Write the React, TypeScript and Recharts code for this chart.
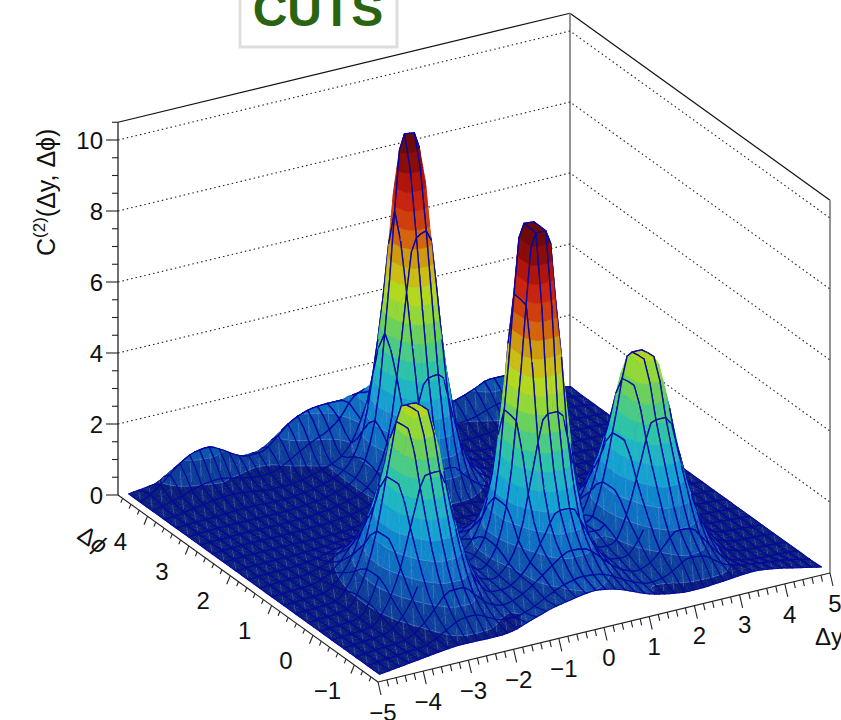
import React from "react";
import { ComposedChart, XAxis, YAxis, Scatter, Line } from "recharts";

const W = 841, H = 720;
// surface heights C(2): one array per dphi row (front to back), 34 dy columns each
const row00 = [.1,.15,.2,.25,.3,.35,.38,.38,.37,.37,.42,.55,.68,.8,.88,.95,1.0,.95,.85,.7,.55,.45,.38,.34,.34,.37,.4,.44,.46,.42,.36,.28,.2,.12];
const row01 = [.1,.15,.18,.22,.25,.38,.59,.78,.8,.64,.49,.47,.57,.75,.94,1.08,1.15,1.12,1.01,.81,.63,.52,.56,.75,.95,.92,.69,.48,.4,.35,.3,.25,.18,.1];
const row02 = [.1,.15,.18,.2,.29,.55,.95,1.32,1.33,1.01,.69,.57,.66,.87,1.15,1.44,1.64,1.61,1.35,.99,.74,.62,.76,1.13,1.48,1.45,1.05,.6,.3,.2,.15,.14,.12,.1];
const row03 = [.1,.15,.18,.22,.44,.94,1.76,2.45,2.47,1.79,1.06,.69,.69,.88,1.29,1.93,2.52,2.51,1.84,1.13,.8,.77,1.15,1.94,2.67,2.65,1.89,1.01,.44,.23,.15,.14,.12,.1];
const row04 = [.1,.13,.15,.2,.64,1.5,2.9,4.1,4.13,2.89,1.59,.86,.72,.97,1.7,3.5,5.0,5.0,3.4,1.55,.88,.9,1.61,2.92,4.1,4.09,2.9,1.5,.6,.27,.16,.14,.12,.1];
const row05 = [.1,.13,.15,.22,.83,2.03,3.97,5.62,5.62,3.94,2.11,1.02,.75,1.13,2.48,6.0,9.85,9.85,5.91,2.32,1.07,1.06,2.09,3.92,5.57,5.57,3.94,2.01,.77,.32,.18,.15,.12,.1];
const row06 = [.1,.13,.15,.22,.82,2.0,3.93,5.57,5.57,3.9,2.1,1.0,.75,1.15,2.5,6.1,9.88,9.85,6.0,2.35,1.07,1.05,2.07,3.88,5.52,5.52,3.9,2.0,.76,.32,.18,.15,.12,.1];
const row07 = [.1,.13,.15,.2,.62,1.47,2.83,3.99,4.0,2.84,1.54,.83,.68,.93,1.66,3.37,5.15,5.22,3.3,1.52,.86,.86,1.57,2.84,3.99,3.99,2.83,1.47,.59,.27,.17,.14,.12,.1];
const row08 = [.1,.13,.15,.18,.45,.98,1.83,2.55,2.55,1.84,1.05,.63,.57,.72,1.02,1.54,2.05,2.02,1.47,.9,.64,.65,1.07,1.85,2.56,2.55,1.83,.98,.43,.22,.16,.14,.12,.1];
const row09 = [.1,.13,.15,.17,.31,.6,1.05,1.45,1.45,1.06,.64,.44,.43,.51,.65,.84,.95,.93,.78,.58,.46,.47,.67,1.07,1.45,1.45,1.05,.6,.3,.19,.15,.14,.12,.1];
const row10 = [.1,.13,.15,.16,.23,.36,.59,.78,.79,.6,.42,.3,.33,.36,.43,.48,.5,.49,.45,.38,.33,.32,.41,.6,.78,.78,.59,.36,.22,.17,.15,.14,.12,.1];
const row11 = [.1,.13,.14,.15,.18,.23,.32,.39,.39,.32,.25,.24,.26,.3,.35,.38,.4,.39,.37,.32,.27,.25,.27,.33,.39,.39,.32,.23,.18,.15,.15,.14,.12,.1];
const row12 = [.1,.13,.14,.15,.15,.16,.18,.21,.25,.26,.25,.24,.28,.33,.39,.43,.45,.44,.41,.35,.29,.24,.22,.23,.25,.25,.21,.18,.16,.15,.15,.14,.12,.1];
const row13 = [.1,.13,.14,.15,.15,.15,.15,.15,.15,.17,.22,.27,.35,.47,.65,.95,1.23,1.24,.91,.58,.4,.29,.23,.19,.16,.15,.15,.15,.15,.15,.15,.14,.12,.1];
const row14 = [.1,.13,.14,.15,.15,.15,.15,.16,.17,.2,.25,.32,.44,.65,1.15,2.34,3.57,3.63,2.29,1.06,.55,.35,.26,.21,.17,.15,.15,.15,.15,.15,.15,.14,.12,.1];
const row15 = [.1,.13,.14,.15,.15,.15,.15,.16,.17,.21,.26,.35,.48,.83,1.82,4.47,7.25,7.43,4.42,1.72,.72,.37,.28,.21,.17,.15,.15,.15,.15,.15,.15,.14,.12,.1];
const row16 = [.1,.13,.14,.15,.15,.15,.15,.16,.17,.21,.26,.35,.48,.9,2.23,5.87,9.98,9.93,5.82,2.13,.79,.37,.28,.21,.17,.15,.15,.15,.15,.15,.15,.14,.12,.1];
const row17 = [.1,.13,.14,.16,.18,.2,.2,.18,.18,.21,.26,.35,.48,.8,1.68,3.97,6.38,6.53,3.92,1.58,.69,.37,.28,.23,.2,.22,.22,.22,.2,.16,.15,.14,.12,.1];
const row18 = [.1,.14,.2,.26,.32,.35,.32,.27,.23,.23,.27,.35,.47,.63,1.02,1.9,2.79,2.83,1.85,.93,.53,.35,.3,.3,.33,.38,.4,.38,.3,.22,.17,.14,.12,.1];
const row19 = [.1,.2,.3,.42,.52,.55,.48,.4,.35,.38,.55,.78,.98,1.15,1.45,1.95,2.1,2.0,1.65,1.15,.8,.6,.52,.5,.55,.68,.78,.75,.6,.42,.3,.2,.15,.1];
const row20 = [.1,.32,.62,.95,1.15,1.2,1.05,.82,.68,.7,.95,1.3,1.5,1.6,1.62,1.62,1.6,1.5,1.3,1.1,.95,.85,.8,.8,.9,1.05,1.2,1.2,1.0,.7,.45,.25,.15,.1];
const row21 = [.1,.15,.2,.25,.3,.35,.38,.38,.37,.37,.42,.55,.68,.8,.88,.95,1.0,.95,.85,.7,.55,.45,.38,.34,.34,.37,.4,.44,.46,.42,.36,.28,.2,.12];
const heightRows = [row00,row01,row02,row03,row04,row05,row06,row07,row08,row09,row10,row11,row12,row13,row14,row15,row16,row17,row18,row19,row20,row21];

const bandColors = ["#0a1f7a","#0d3f98","#0e55ad","#0f6fc0","#1188cc","#15a3d0","#1fb6c4","#2fc3a8","#4ccb84","#6cd15c","#93d838","#b4d81f","#cbbd14","#cf9a10","#d4640e","#cf3f0e","#c92410","#b0150c","#8a0d0a","#6e0a0a","#6e0a0a"];
const zTicks = [0,2,4,6,8,10];
const dyTicks = [-5,-4,-3,-2,-1,0,1,2,3,4,5];
const dphiTicks = [-1,0,1,2,3,4];

// view: box corners
const A = [378,682], U = [452,-109], V = [-260,-187];
const ZS = 35.5, ZMAX = 10.5, PI = Math.PI;
const proj = (t:number,s:number,z:number) => ({ px: A[0]+U[0]*t+V[0]*s, py: A[1]+U[1]*t+V[1]*s-z*ZS });

// monotone cubic curve through read values (same idea as a "monotone" line type)
function slopes(v:number[]){
  const m=new Array(v.length).fill(0);
  for(let k=1;k<v.length-1;k++){ const a=v[k]-v[k-1], b=v[k+1]-v[k]; m[k]=a*b<=0?0:2*a*b/(a+b); }
  m[0]=v[1]-v[0]; m[v.length-1]=v[v.length-1]-v[v.length-2];
  return m;
}
function hermite(v:number[],m:number[],u:number){
  const k=Math.min(Math.floor(u),v.length-2), f=u-k, f2=f*f, f3=f2*f;
  return (2*f3-3*f2+1)*v[k]+(f3-2*f2+f)*m[k]+(-2*f3+3*f2)*v[k+1]+(f3-f2)*m[k+1];
}
function clip(poly:any[], lvl:number, keepAbove:boolean){
  const out:any[] = [];
  for(let k=0;k<poly.length;k++){
    const a=poly[k], b=poly[(k+1)%poly.length];
    const ia = keepAbove ? a.z>=lvl : a.z<=lvl;
    const ib = keepAbove ? b.z>=lvl : b.z<=lvl;
    if(ia) out.push(a);
    if(ia!==ib){ const f=(lvl-a.z)/(b.z-a.z); out.push({t:a.t+(b.t-a.t)*f,s:a.s+(b.s-a.s)*f,z:lvl}); }
  }
  return out;
}

const NI=row00.length-1, NJ=heightRows.length-1;
const WY=45, SUB=2, NA=WY*SUB, NB=NJ*SUB;
const rowSl=heightRows.map(slopes);
const grid:any[][]=[];
for(let a=0;a<=NA;a++){
  const u=a/NA*NI;
  const col=heightRows.map((r,j)=>hermite(r,rowSl[j],u));
  const cm=slopes(col);
  const line:any[]=[];
  for(let b=0;b<=NB;b++){ line.push({t:.012+.978*a/NA,s:.015+.965*b/NB,z:Math.max(.02,hermite(col,cm,b/NB*NJ))}); }
  grid.push(line);
}
const mix=(p:any,q:any,f:number)=>proj(p.t+(q.t-p.t)*f,p.s+(q.s-p.s)*f,p.z+(q.z-p.z)*f);
const cells:any[]=[];
for(let b=NB-1;b>=0;b--) for(let a=NA-1;a>=0;a--){
  const q=[grid[a][b],grid[a+1][b],grid[a+1][b+1],grid[a][b+1]];
  const mz=(q[0].z+q[1].z+q[2].z+q[3].z)/4;
  const c=proj((q[0].t+q[1].t)/2,(q[0].s+q[3].s)/2,mz);
  const bands:any[]=[]; const pale:any[]=[];
  bandColors.forEach((col,n)=>{
    let p=clip(q,n*.5,true); if(p.length<3) return;
    p=clip(p,(n+1)*.5,false); if(p.length<3) return;
    bands.push({col,pts:p.map(m=>proj(m.t,m.s,m.z))});
    if(n>=1&&n<=5) p.forEach((m,k)=>{const o=p[(k+1)%p.length]; if(m.z===n*.5&&o.z===n*.5) pale.push([proj(m.t,m.s,m.z),proj(o.t,o.s,o.z)]);});
  });
  const P=q.map(m=>proj(m.t,m.s,m.z));
  const wires:any[]=[];
  const yVal=-5+10*(a+.5)/NA;
  const showRow=(j:number)=>!((j===3||j===5)&&Math.abs(yVal)>1.2&&mz>1.2);
  if(b%SUB===0&&showRow(b/SUB)) wires.push([P[0],P[1]]);
  if((b+1)%SUB===0&&showRow((b+1)/SUB)) wires.push([P[3],P[2]]);
  if(a%SUB===0) wires.push([P[0],P[3]]);
  if((a+1)%SUB===0) wires.push([P[1],P[2]]);
  const seams:any[]=[];
  if(mz<3.5&&a%SUB===0&&b%SUB===0) seams.push([mix(q[0],q[2],.45),P[2]]);
  if(mz<3.5&&a%SUB===1&&b%SUB===1) seams.push([P[0],mix(q[0],q[2],.55)]);
  cells.push({...c,bands,wires,seams,pale,mz});
}

const CellShape = (props:any) => {
  const {cx,cy,payload:d}=props;
  const ox=cx-d.px, oy=cy-d.py;
  const f=(n:any)=>`${(n.px+ox).toFixed(1)},${(n.py+oy).toFixed(1)}`;
  const segs=(l:any[])=>l.map(s=>`M${f(s[0])}L${f(s[1])}`).join("");
  return <g>
    {d.bands.map((b:any,k:number)=><polygon key={k} points={b.pts.map(f).join(" ")} fill={b.col} stroke={b.col} strokeWidth={.5}/>)}
    {d.pale.length>0&&<path d={segs(d.pale)} stroke="#7fa6e6" strokeOpacity={.6} strokeWidth={.6} fill="none"/>}
    {d.seams.length>0&&<path d={segs(d.seams)} stroke="#6f95dc" strokeOpacity={.55} strokeWidth={.8} fill="none"/>}
    {d.wires.length>0&&<path d={segs(d.wires)} stroke="#0606a0" strokeWidth={d.mz>1?1.35:1.05} strokeLinecap="round" fill="none"/>}
  </g>;
};

// frame
const L0=proj(0,1,0), R0=proj(1,0,0), B0=proj(1,1,0), A0=proj(0,0,0);
const LT=proj(0,1,ZMAX), RT=proj(1,0,ZMAX), BT=proj(1,1,ZMAX);
const dotted = zTicks.filter(z=>z>0).map(z=>[proj(0,1,z),proj(1,1,z),proj(1,0,z)]);

const sOfPhi=(p:number)=>(p+PI/2)/(2*PI);
const tOfY=(y:number)=>(y+5)/10;
const tickPts:any[]=[];
for(let k=0;k<=50;k++){ const y=-5+k*.2; const mj=k%5===0; tickPts.push({...proj(tOfY(y),0,0),dx:mj?3:1.5,dy:mj?13:6.5}); }
for(let k=-7;k<=23;k++){ const p=k*.2; if(sOfPhi(p)<0||sOfPhi(p)>1) continue; const mj=k%5===0; tickPts.push({...proj(0,sOfPhi(p),0),dx:mj?-3.5:-1.8,dy:mj?8.5:4.3}); }
for(let k=0;k<=21;k++){ const z=k*.5; const mj=k%4===0; tickPts.push({...proj(0,1,z),dx:mj?-12:-6,dy:0}); }
const TickShape=(p:any)=>{const d=p.payload; return <line x1={p.cx} y1={p.cy} x2={p.cx+d.dx} y2={p.cy+d.dy} stroke="#222" strokeWidth={1.1}/>;};

const labelPts:any[]=[
  ...dyTicks.map(v=>({...proj(tOfY(v),0,0),txt:v<0?`\u2212${-v}`:`${v}`,dx:5,dy:30,anchor:"middle"})),
  ...dphiTicks.map(v=>({...proj(0,sOfPhi(v),0),txt:v<0?`\u2212${-v}`:`${v}`,dx:-27,dy:25,anchor:"middle"})),
  ...zTicks.map(v=>({...proj(0,1,v),txt:`${v}`,dx:-15,dy:0,anchor:"end"})),
];
const FONT="'Liberation Sans', Arial, sans-serif";
const LabelShape=(p:any)=>{const d=p.payload; return <text x={p.cx+d.dx} y={p.cy+d.dy} dy="0.36em" textAnchor={d.anchor} fontFamily={FONT} fontSize={24} fill="#111">{d.txt}</text>;};

const titlePts=[{px:55,py:256}];
const TitleShape=(p:any)=><g fontFamily={FONT} fill="#111">
  <text transform={`translate(${p.cx},${p.cy}) rotate(-90)`} fontSize={25}>C<tspan fontSize={17} dy={-10}>(2)</tspan><tspan dy={10}>({"\u0394"}y, {"\u0394\u03D5"})</tspan></text>
  <text transform={`translate(${p.cx+21},${p.cy+282}) rotate(35)`} fontSize={24}>{"\u0394"}<tspan fontStyle="italic">{"\u03D5"}</tspan></text>
  <text x={p.cx+760} y={p.cy+389} fontSize={24}>{"\u0394"}y</text>
</g>;
const legendPts=[{px:319,py:20}];
const LegendShape=(p:any)=><g>
  <rect x={p.cx-79} y={p.cy-40} width={157} height={67} fill="#fff" stroke="#ddd" strokeWidth={3}/>
  <text x={p.cx-1} y={p.cy+6} textAnchor="middle" fontFamily={FONT} fontWeight={700} fontSize={48} fill="#2a6410">CUTS</text>
</g>;

const seg=(key:string,data:any[],stroke:string,w:number,dash?:string)=><Line key={key} data={data} dataKey="py" stroke={stroke} strokeWidth={w} strokeDasharray={dash} dot={false} activeDot={false} isAnimationActive={false} legendType="none"/>;

export default function App(){
  return <div style={{position:"absolute",left:0,top:0,width:W,height:H,background:"#fff"}}>
    <ComposedChart width={W} height={H} data={cells} margin={{top:0,right:0,bottom:0,left:0}}>
      <XAxis type="number" dataKey="px" domain={[0,W]} hide allowDataOverflow/>
      <YAxis type="number" dataKey="py" domain={[0,H]} reversed hide allowDataOverflow/>
      {seg("t1",[LT,BT],"#111",1.2)}
      {seg("t2",[BT,RT],"#111",1.2)}
      {seg("v1",[BT,B0],"#888",1.8)}
      {seg("v2",[RT,R0],"#888",1.8)}
      {dotted.map((d,k)=>seg("g"+k,d,"#222",1.1,"1.5 3"))}
      {seg("a1",[LT,L0],"#222",1.3)}
      {seg("a2",[L0,A0],"#222",1.1)}
      {seg("a3",[A0,R0],"#222",1.1)}
      <Scatter data={tickPts} shape={TickShape} isAnimationActive={false}/>
      <Scatter data={cells} shape={CellShape} isAnimationActive={false}/>
      <Scatter data={labelPts} shape={LabelShape} isAnimationActive={false}/>
      <Scatter data={titlePts} shape={TitleShape} isAnimationActive={false}/>
      <Scatter data={legendPts} shape={LegendShape} isAnimationActive={false}/>
    </ComposedChart>
  </div>;
}
